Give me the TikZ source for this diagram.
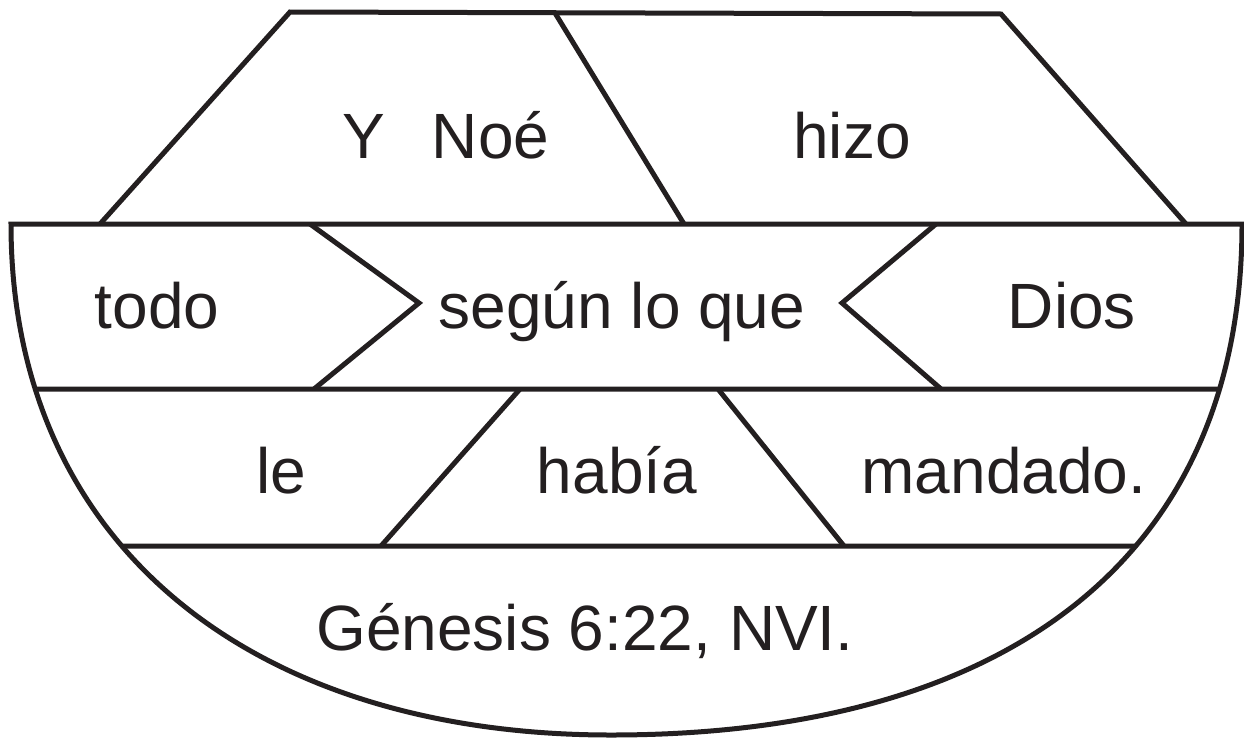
\documentclass[tikz,border=0pt]{standalone}
\usepackage{fontspec}
\setmainfont{Liberation Sans}
\usetikzlibrary{intersections}
\definecolor{ink}{HTML}{231F20}
\tikzset{
  stroke/.style={draw=ink, line width=5pt, line join=miter},
  word/.style={anchor=base, inner sep=0pt, text=ink, font=\fontsize{64pt}{76pt}\selectfont}
}
\begin{document}
\begin{tikzpicture}[x=1pt,y=-1pt]
\useasboundingbox (0,0) rectangle (1244,739);
% bowl
\draw[stroke, name path=bowl] (11,224) -- (1242,224)
  .. controls (1242,554) and (1012,735) .. (611,735)
  .. controls (251,735) and (11,544) .. cycle;
% top trapezoid
\draw[stroke] (100,224) -- (290,12) -- (1001,14) -- (1186,224);
\draw[stroke] (555,13) -- (684,224);
% horizontal row lines
\path[name path=h1] (0,389) -- (1244,389);
\path[name path=h2] (0,546) -- (1244,546);
\path[name intersections={of=bowl and h1, name=a}];
\path[name intersections={of=bowl and h2, name=b}];
\draw[stroke] (a-1) -- (a-2);
\draw[stroke] (b-1) -- (b-2);
% chevrons
\draw[stroke] (310,224) -- (419,303) -- (314,389);
\draw[stroke] (936,224) -- (842,303) -- (941,389);
% row 3 dividers
\draw[stroke] (520,389) -- (381,546);
\draw[stroke] (718,389) -- (844,546);
% texts
\node[word, anchor=base west] (ynoe) at (342,158) {Y\hspace{47pt}Noé};
\node[word] (hizo) at (852,158) {hizo};
\node[word] (todo) at (157,328) {todo};
\node[word] (segun) at (622,328) {según lo que};
\node[word] (dios) at (1072,328) {Dios};
\node[word] (le) at (281,493) {le};
\node[word] (habia) at (617,493) {había};
\node[word] (mandado) at (1004,493) {mandado.};
\node[word] (ref) at (585,650) {Génesis 6:22, NVI.};
\end{tikzpicture}
\end{document}
